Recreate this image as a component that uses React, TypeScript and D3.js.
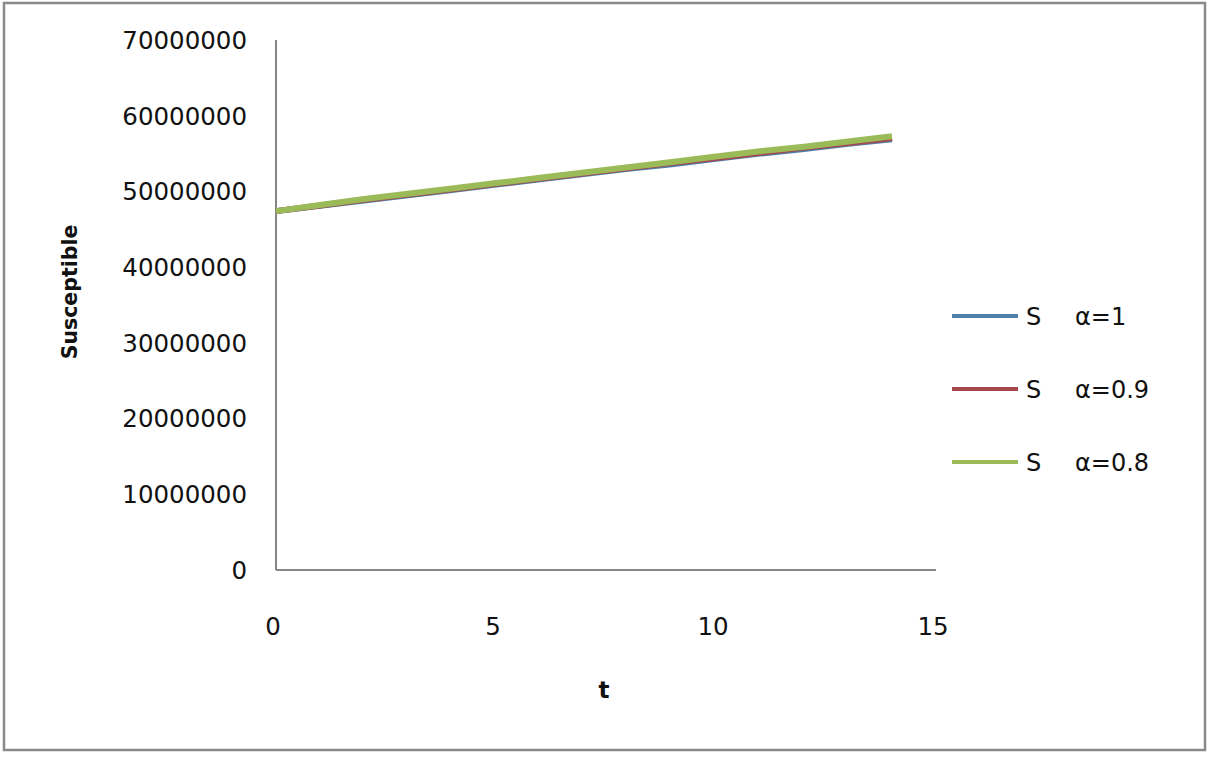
import { useEffect, useRef } from "react";
import * as d3 from "d3";

// time steps and S values (millions)
const tValues = [0, 1, 2, 3, 4, 5, 6, 7, 8, 9, 10, 11, 12, 13, 14];
const sAlpha1 = [47.4, 48.1, 48.8, 49.5, 50.2, 50.9, 51.6, 52.3, 53.0, 53.6, 54.3, 55.0, 55.6, 56.3, 56.9];
const sAlpha09 = [47.4, 48.15, 48.9, 49.6, 50.3, 51.0, 51.7, 52.4, 53.1, 53.8, 54.4, 55.1, 55.8, 56.4, 57.05];
const sAlpha08 = [47.4, 48.2, 49.0, 49.7, 50.4, 51.1, 51.8, 52.5, 53.2, 53.9, 54.6, 55.3, 55.9, 56.6, 57.3];
const seriesLetters = ["S", "S", "S"];
const seriesAlphas = ["\u03b1=1", "\u03b1=0.9", "\u03b1=0.8"];
const seriesColors = ["#4f7fa8", "#a5474c", "#9bbb59"];
const yTicks = [0, 10000000, 20000000, 30000000, 40000000, 50000000, 60000000, 70000000];
const xTicks = [0, 5, 10, 15];

export default function App() {
  const svgRef = useRef<SVGSVGElement>(null);

  useEffect(() => {
    const svg = d3.select(svgRef.current);
    svg.selectAll("*").remove();
    const font = "Verdana, 'DejaVu Sans', sans-serif";

    // outer frame
    svg.append("rect")
      .attr("x", 4).attr("y", 3).attr("width", 1201).attr("height", 747)
      .attr("fill", "white").attr("stroke", "#8a8a8a").attr("stroke-width", 2.5);

    const x = d3.scaleLinear().domain([0, 15]).range([276, 936]);
    const y = d3.scaleLinear().domain([0, 70000000]).range([570, 40]);

    // axes
    svg.append("line")
      .attr("x1", x(0)).attr("x2", x(0)).attr("y1", y(70000000)).attr("y2", y(0))
      .attr("stroke", "#868686").attr("stroke-width", 2);
    svg.append("line")
      .attr("x1", x(0)).attr("x2", x(15)).attr("y1", y(0)).attr("y2", y(0))
      .attr("stroke", "#868686").attr("stroke-width", 2);

    svg.selectAll("text.ytick")
      .data(yTicks)
      .join("text")
      .attr("class", "ytick")
      .attr("x", 247)
      .attr("y", d => y(d))
      .attr("dy", "0.36em")
      .attr("text-anchor", "end")
      .attr("font-family", font)
      .attr("font-size", 24.5)
      .attr("fill", "#111")
      .text(d => d3.format("d")(d));

    svg.selectAll("text.xtick")
      .data(xTicks)
      .join("text")
      .attr("class", "xtick")
      .attr("x", d => x(d) - 3)
      .attr("y", 626)
      .attr("dy", "0.36em")
      .attr("text-anchor", "middle")
      .attr("font-family", font)
      .attr("font-size", 24.5)
      .attr("fill", "#111")
      .text(d => d);

    // axis titles
    svg.append("text")
      .attr("transform", "translate(70,292) rotate(-90)")
      .attr("dy", "0.36em")
      .attr("text-anchor", "middle")
      .attr("font-family", font)
      .attr("font-weight", "bold")
      .attr("font-size", 20.5)
      .attr("fill", "#111")
      .text("Susceptible");
    svg.append("text")
      .attr("x", 604).attr("y", 690)
      .attr("dy", "0.36em")
      .attr("text-anchor", "middle")
      .attr("font-family", font)
      .attr("font-weight", "bold")
      .attr("font-size", 23)
      .attr("fill", "#111")
      .text("t");

    // lines
    const allSeries = [sAlpha1, sAlpha09, sAlpha08];
    const line = d3.line<number>()
      .x((_, i) => x(tValues[i]))
      .y(d => y(d * 1000000));
    svg.selectAll("path.series")
      .data(allSeries)
      .join("path")
      .attr("class", "series")
      .attr("d", d => line(d))
      .attr("fill", "none")
      .attr("stroke", (_, i) => seriesColors[i])
      .attr("stroke-width", 6)
      .attr("stroke-linejoin", "round");

    // legend
    const legend = svg.selectAll("g.legend")
      .data(seriesAlphas)
      .join("g")
      .attr("class", "legend")
      .attr("transform", (_, i) => `translate(952,${316 + i * 73})`);
    legend.append("line")
      .attr("x1", 0).attr("x2", 66).attr("y1", 0).attr("y2", 0)
      .attr("stroke", (_, i) => seriesColors[i])
      .attr("stroke-width", 4);
    legend.append("text")
      .attr("x", 74).attr("y", 0)
      .attr("dy", "0.36em")
      .attr("font-family", font)
      .attr("font-size", 24)
      .attr("fill", "#111")
      .text((_, i) => seriesLetters[i]);
    legend.append("text")
      .attr("x", 123).attr("y", 0)
      .attr("dy", "0.36em")
      .attr("font-family", font)
      .attr("font-size", 24)
      .attr("fill", "#111")
      .text(d => d);
  }, []);

  return (
    <svg ref={svgRef} width={1215} height={760}
      style={{ position: "absolute", left: 0, top: 0, background: "white" }} />
  );
}
